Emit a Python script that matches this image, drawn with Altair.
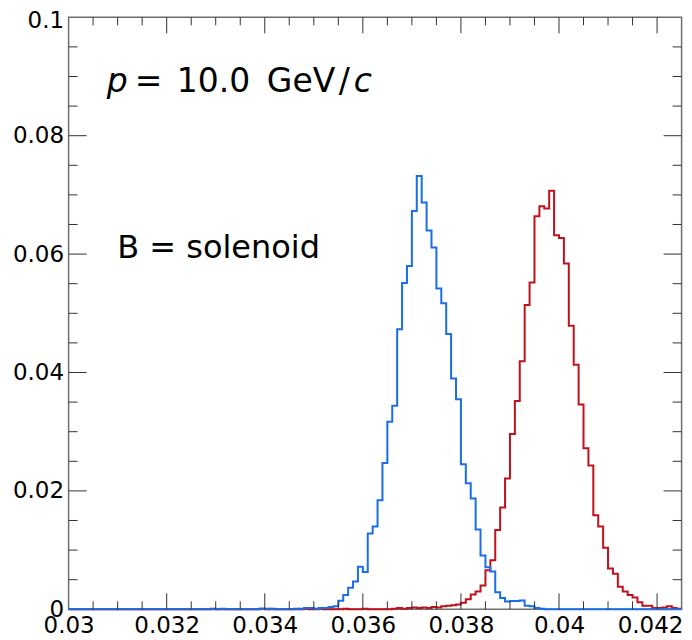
import altair as alt
import pandas as pd

# ---- axis ranges / binning ----
x_lo, x_hi = 0.030, 0.0425
bin_w = 0.0001
n_bins = 125
y_lo, y_hi = 0.0, 0.1

# ---- histogram contents (normalised) ----
blue_start = 0.0331
blue_vals = [
    0.0001, 0, 0, 0, 0, 0, 0, 0, 0.0001, 0.0001,            # 0.0331-0.0340
    0, 0, 0, 0, 0, 0, 0.0001, 0.0002, 0.0002, 0.0001,       # 0.0341-0.0350
    0.0002, 0.0002, 0.0004, 0.0005, 0.00145, 0.0024, 0.00365, 0.0047, 0.0072, 0.0063,  # 0.0351-0.0360
    0.0128, 0.0140, 0.0184, 0.0247, 0.0317, 0.0344, 0.0473, 0.0551, 0.0580, 0.0673,    # 0.0361-0.0370
    0.0732, 0.0687, 0.0640, 0.0611, 0.0542, 0.0517, 0.0465, 0.0390, 0.0355, 0.0245,    # 0.0371-0.0380
    0.0213, 0.0187, 0.0135, 0.0091, 0.0071, 0.0064, 0.0029, 0.0019, 0.0013, 0.0014,    # 0.0381-0.0390
    0.0014, 0.0015, 0.0006, 0.0005, 0.0002, 0.0001,                                    # 0.0391-0.0396
]

red_start = 0.0329
red_vals = [
    0.0001, 0, 0, 0, 0, 0, 0, 0, 0, 0, 0.0001,              # 0.0329-0.0339
    0, 0.0001, 0, 0, 0, 0, 0.0001, 0, 0.0001, 0,            # 0.0340-0.0349
    0, 0.0001, 0, 0, 0, 0, 0.0001, 0, 0, 0,                 # 0.0350-0.0359
    0.0001, 0, 0, 0, 0, 0, 0.0001, 0.0002, 0.0001, 0.0002,  # 0.0360-0.0369
    0.0003, 0.0002, 0.0003, 0.0002, 0.0004, 0.0003, 0.0005, 0.0006, 0.0007, 0.0008,    # 0.0370-0.0379
    0.0011, 0.0017, 0.0025, 0.0030, 0.0040, 0.0066, 0.0083, 0.0134, 0.0172, 0.0221,    # 0.0380-0.0389
    0.0296, 0.0352, 0.0419, 0.0514, 0.0552, 0.0664, 0.0681, 0.0677, 0.0707, 0.0632,    # 0.0390-0.0399
    0.0627, 0.0584, 0.0479, 0.0413, 0.0346, 0.0272, 0.0243, 0.0159, 0.0140, 0.0104,    # 0.0400-0.0409
    0.0069, 0.0060, 0.0038, 0.0030, 0.0024, 0.0020, 0.0012, 0.0006, 0.0006, 0.0002,    # 0.0410-0.0419
    0.0002, 0.0003, 0.0005, 0.0002, 0.0001,                                            # 0.0420-0.0424
]

# ---- tick positions / labels ----
x_major = [0.030, 0.032, 0.034, 0.036, 0.038, 0.040, 0.042]
y_major = [0.0, 0.02, 0.04, 0.06, 0.08, 0.1]
x_minor = [round(x_lo + k * 0.0005, 5) for k in range(1, 25) if k % 4 != 0]
y_minor = [round(y_lo + k * 0.005, 4) for k in range(1, 20) if k % 4 != 0]

BLUE = "#1a6ee6"
RED = "#c0121c"
FONT = "DejaVu Sans"
W, H = 613, 592


def full_hist(start, vals):
    full = [0.0] * n_bins
    i0 = int(round((start - x_lo) / bin_w))
    for k, v in enumerate(vals):
        full[i0 + k] = v
    return full


def step_frame(full):
    rows = []
    for i in range(n_bins + 1):
        rows.append({"x": x_lo + i * bin_w, "y": full[min(i, n_bins - 1)], "o": i})
    return pd.DataFrame(rows)


red_df = step_frame(full_hist(red_start, red_vals))
blue_df = step_frame(full_hist(blue_start, blue_vals))

xs = alt.Scale(domain=[x_lo, x_hi], nice=False, zero=False)
ys = alt.Scale(domain=[y_lo, y_hi], nice=False, zero=False)

x_axis = alt.Axis(values=x_major, format="~g", ticks=False, tickSize=0, domain=False,
                  grid=False, labelFont=FONT, labelFontSize=23, labelPadding=5,
                  labelFlush=False, labelOverlap=False, labelColor="black", title=None,
                  labelOffset={"condition": {"test": "datum.value > 0.0419", "value": -7}, "value": 0})
y_axis = alt.Axis(values=y_major, format="~g", ticks=False, tickSize=0, domain=False,
                  grid=False, labelFont=FONT, labelFontSize=23, labelPadding=5,
                  labelFlush=False, labelOverlap=False, labelColor="black", title=None,
                  labelOffset={"condition": {"test": "datum.value > 0.099", "value": 3}, "value": 0})

red_line = alt.Chart(red_df).mark_line(interpolate="step-after", color=RED, strokeWidth=2).encode(
    x=alt.X("x:Q", scale=xs, axis=x_axis),
    y=alt.Y("y:Q", scale=ys, axis=y_axis),
    order="o:Q",
)
blue_line = alt.Chart(blue_df).mark_line(interpolate="step-after", color=BLUE, strokeWidth=2).encode(
    x=alt.X("x:Q", scale=xs, axis=x_axis),
    y=alt.Y("y:Q", scale=ys, axis=y_axis),
    order="o:Q",
)

TICK_COL = "#333333"
xmaj_df = pd.DataFrame({"v": [v for v in x_major if x_lo < v < x_hi]})
xmin_df = pd.DataFrame({"v": x_minor})
ymaj_df = pd.DataFrame({"v": [v for v in y_major if y_lo < v < y_hi]})
ymin_df = pd.DataFrame({"v": y_minor})


def xticks(df, length):
    base = alt.Chart(df).mark_rule(color=TICK_COL, strokeWidth=1)
    bottom = base.encode(x=alt.X("v:Q", scale=xs, axis=x_axis), y=alt.value(H), y2=alt.value(H - length))
    top = base.encode(x=alt.X("v:Q", scale=xs, axis=x_axis), y=alt.value(0), y2=alt.value(length))
    return bottom + top


def yticks(df, length):
    base = alt.Chart(df).mark_rule(color=TICK_COL, strokeWidth=1)
    left = base.encode(y=alt.Y("v:Q", scale=ys, axis=y_axis), x=alt.value(0), x2=alt.value(length))
    right = base.encode(y=alt.Y("v:Q", scale=ys, axis=y_axis), x=alt.value(W), x2=alt.value(W - length))
    return left + right


ann = pd.DataFrame({"a": [0]})


def label(text, x, y, dx=0, italic=False, size=33):
    return alt.Chart(ann).mark_text(
        text=text, align="left", baseline="alphabetic", font=FONT, fontSize=size,
        fontStyle="italic" if italic else "normal", color="black", dx=dx,
    ).encode(x=alt.datum(x, scale=xs, axis=x_axis), y=alt.datum(y, scale=ys, axis=y_axis))


p_x, p_y = 0.03078, 0.0873
title_parts = (
    label("p", p_x, p_y, 0, True)
    + label("=", p_x, p_y, 28)
    + label("10.0", p_x, p_y, 70)
    + label("GeV", p_x, p_y, 160)
    + label("/", p_x, p_y, 232)
    + label("c", p_x, p_y, 247, True)
)
b_label = label("B = solenoid", 0.03099, 0.0594, size=32)

chart = alt.layer(
    red_line, blue_line,
    xticks(xmaj_df, 16), xticks(xmin_df, 8),
    yticks(ymaj_df, 18), yticks(ymin_df, 9),
    title_parts, b_label,
).properties(
    width=W, height=H,
    autosize=alt.AutoSizeParams(type="none"),
    padding={"left": 60.6, "top": 9.3, "right": 2, "bottom": 30},
).configure_view(stroke="#6e6e6e", strokeWidth=1.5)

chart.save("out.html", embed_options={"renderer": "svg", "actions": False})
